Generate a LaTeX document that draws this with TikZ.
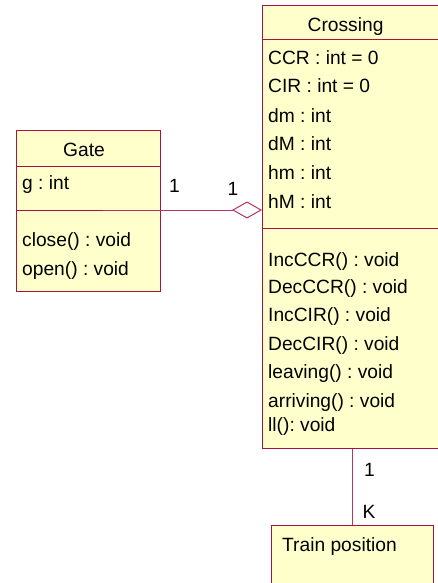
\documentclass[tikz,border=0pt]{standalone}
\usepackage{fontspec}
\setmainfont{Liberation Sans}
\usetikzlibrary{arrows.meta}
\definecolor{umlborder}{RGB}{165,20,70}
\definecolor{umlfill}{RGB}{255,255,204}
\definecolor{umlline}{RGB}{185,50,100}
\begin{document}
\frenchspacing
\begin{tikzpicture}[x=1pt,y=-1pt,
  classbox/.style={draw=umlborder, fill=umlfill, line width=1pt, inner sep=0pt,
                   anchor=north west},
  sepline/.style={draw=umlborder, line width=1pt},
  txt/.style={anchor=base west, inner sep=0pt, font=\fontsize{19.2}{22}\selectfont},
  assoc/.style={draw=umlline, line width=1pt}
]
\path[use as bounding box] (0,0) rectangle (438,583);
\clip (0,0) rectangle (438,583);

% class boxes
\node[classbox, minimum width=144pt, minimum height=161pt] (gate) at (16,130) {};
\node[classbox, minimum width=183pt, minimum height=443pt] (crossing) at (262,5) {};
\node[classbox, minimum width=162pt, minimum height=75pt] (train) at (271,525) {};

% compartment separators
\draw[sepline] (16,166) -- (160,166);
\draw[sepline] (16,210) -- (160,210);
\draw[sepline] (262,40) -- (445,40);
\draw[sepline] (262,228) -- (445,228);

% Gate
\node[txt] (gtitle) at (63,156) {Gate};
\node[txt] (g1) at (22,189.5) {g : int};
\node[txt] (g2) at (22,246) {close() : void};
\node[txt] (g3) at (22,275) {open() : void};

% Crossing
\node[txt] (ctitle) at (307.5,31.5) {Crossing};
\node[txt] (a1) at (268,65) {CCR : int = 0};
\node[txt] (a2) at (268,93) {CIR : int = 0};
\node[txt] (a3) at (268,122) {dm : int};
\node[txt] (a4) at (268,150) {dM : int};
\node[txt] (a5) at (268,179.5) {hm : int};
\node[txt] (a6) at (268,208) {hM : int};
\node[txt] (m1) at (268,266) {IncCCR() : void};
\node[txt] (m2) at (268,293.5) {DecCCR() : void};
\node[txt] (m3) at (268,321.5) {IncCIR() : void};
\node[txt] (m4) at (268,350) {DecCIR() : void};
\node[txt] (m5) at (268,378) {leaving() : void};
\node[txt] (m6) at (268,407.5) {arriving() : void};
\node[txt] (m7) at (268,431) {ll(): void};

% Train position
\node[txt] (ttitle) at (282,551.5) {Train position};

% aggregation Gate -- Crossing
\coordinate (gatelink) at (103,210);
\draw[assoc, -{Diamond[length=30pt, width=17pt, fill=white]}]
  (gatelink) -- (crossing.west |- gatelink);
\node[txt] (mgate) at (169,192.5) {1};
\node[txt] (mcross) at (227.5,195) {1};

% association Crossing -- Train position
\draw[assoc] (train.north |- crossing.south) -- (train.north);
\node[txt] (mtop) at (364,476.5) {1};
\node[txt] (mbot) at (362.5,518) {K};
\end{tikzpicture}
\end{document}
